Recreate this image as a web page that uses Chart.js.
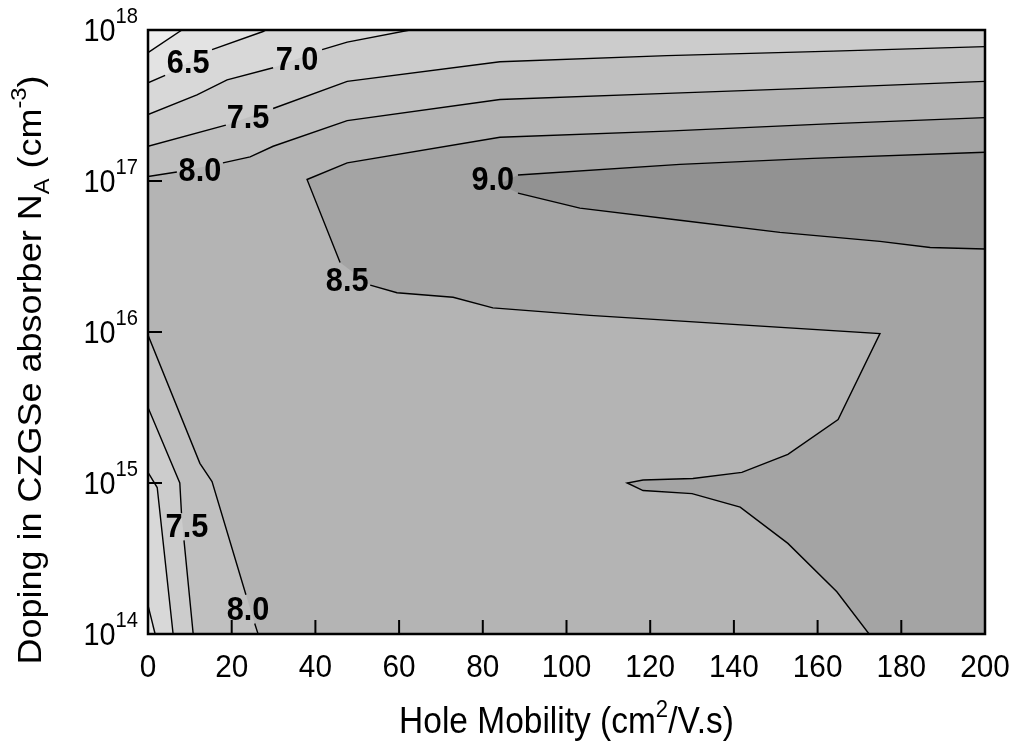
<!DOCTYPE html>
<html>
<head>
<meta charset="utf-8">
<title>Hole mobility vs doping</title>
<script src="https://cdn.jsdelivr.net/npm/chart.js@4.4.1/dist/chart.umd.min.js"></script>
<style>
    body { margin: 0; background: #fff; }
    canvas { display: block; }
</style>
</head>
<body>
<canvas id="myChart" width="1015" height="744"></canvas>
<script>
// axis ticks
const xTicks = [0, 20, 40, 60, 80, 100, 120, 140, 160, 180, 200];
const yExps = [14, 15, 16, 17, 18];

// contour lines, points are [hole mobility, log10(N_A)]
// null = the line is broken there for a label
const top60 = [[0, 17.85], [8.1, 18]];
const top65 = [[0, 17.65], [4.1, 17.70], null, [15.3, 17.87], [27.5, 17.99], [28.2, 18]];
const top70 = [[0, 17.44], [11.7, 17.57], [18.9, 17.67], [29.9, 17.75], null, [41.6, 17.87], [47.6, 17.92], [62.6, 18]];
const top75 = [[0, 17.23], [18.6, 17.37], null, [29.9, 17.48], [47.6, 17.66], [84.1, 17.79], [124, 17.83], [163.7, 17.86], [200, 17.89]];
const top80 = [[0, 17.03], [6.9, 17.06], null, [17.9, 17.12], [24.4, 17.16], [29.9, 17.23], [47.6, 17.40], [84.1, 17.54], [124, 17.58], [163.7, 17.62], [200, 17.66]];
const mid85 = [[200, 17.42], [163.7, 17.38], [124, 17.33], [84.1, 17.29], [47.6, 17.12], [38.0, 17.01], [45.9, 16.46], null,
    [53.1, 16.31], [59.5, 16.26], [72.9, 16.23], [82.4, 16.16], [105.6, 16.11], [174.9, 15.99],
    [164.9, 15.42], [152.9, 15.19], [141.9, 15.07], [130.2, 15.03], [118.3, 15.02], [114.5, 15.0],
    [118.3, 14.95], [130.0, 14.93], [141.5, 14.84], [152.9, 14.60], [164.6, 14.28], [172.3, 14.0]];
const mid90 = [[200, 17.19], [158.9, 17.15], [127.1, 17.11], [88.4, 17.04], null, [84.0, 16.98], null,
    [88.4, 16.92], [103.2, 16.82], [127.1, 16.74], [151.0, 16.66], [174.9, 16.60], [186.9, 16.56], [200, 16.55]];
const low80 = [[0, 15.98], [12.4, 15.13], [15.3, 15.01], [23.4, 14.26], null, [25.5, 14.07], [26.3, 14.0]];
const low75 = [[0, 15.50], [7.6, 15.0], [8.0, 14.80], null, [8.6, 14.62], [10.8, 14.0]];
const low70 = [[0, 15.07], [2.2, 14.97], [6.0, 14.0]];
const low65 = [[0, 14.19], [1.7, 14.0]];

// contour labels
const labelText = ['6.5', '7.0', '7.5', '8.0', '9.0', '8.5', '7.5', '8.0'];
const labelX = [9.6, 35.6, 23.9, 12.4, 82.4, 47.6, 9.3, 23.9];
const labelY = [17.78, 17.80, 17.42, 17.07, 17.01, 16.34, 14.71, 14.16];

// grey for each band, lightest (<6.0) to darkest (>9.0)
const shades = ['#eeeeee', '#e3e3e3', '#d8d8d8', '#cccccc', '#c0c0c0', '#b4b4b4', '#a4a4a4', '#929292'];

const X0 = 0, X1 = 200, E0 = 14, E1 = 18;

function toPts(arr) {
    return arr.map((p, i) => p ? {x: p[0], y: Math.pow(10, p[1])}
                               : {x: (arr[i - 1][0] + arr[i + 1][0]) / 2, y: null});
}

// filled bands, back to front: [outline, shade index]
const layers = [
    [[[X0, E0], [X1, E0], [X1, E1], [X0, E1]], 5],
    [mid85.filter(Boolean).concat([[X1, E0]]), 6],
    [mid90.filter(Boolean), 7],
    [top80.filter(Boolean).concat([[X1, E1], [X0, E1]]), 4],
    [top75.filter(Boolean).concat([[X1, E1], [X0, E1]]), 3],
    [top70.filter(Boolean).concat([[X0, E1]]), 2],
    [top65.filter(Boolean).concat([[X0, E1]]), 1],
    [top60.concat([[X0, E1]]), 0],
    [low80.filter(Boolean).concat([[X0, E0]]), 4],
    [low75.filter(Boolean).concat([[X0, E0]]), 3],
    [low70.concat([[X0, E0]]), 2],
    [low65.concat([[X0, E0]]), 1]
];
const lines = [top60, top65, top70, top75, top80, mid85, mid90, low80, low75, low70, low65];

let datasets = [];
layers.forEach((l, i) => {
    datasets.push({
        data: toPts(l[0]),
        backgroundColor: shades[l[1]],
        borderWidth: 0,
        fill: 'shape',
        order: 100 - i
    });
});
lines.forEach(l => {
    datasets.push({
        data: toPts(l),
        borderColor: '#000',
        borderWidth: 1.4,
        fill: false,
        order: 0
    });
});

const FONT = '"Liberation Sans", Arial, sans-serif';
const squeeze = 0.93;   // the original figure is a little narrow

// text with super/subscripts, parts = [[text, 0 | 1 (sup) | -1 (sub)], ...]
function drawRich(ctx, parts, x, y, size, align, rot, supSize, supRise) {
    ctx.save();
    ctx.translate(x, y);
    if (rot) {
        ctx.rotate(rot);
        ctx.scale(1, squeeze);
    } else {
        ctx.scale(squeeze, 1);
    }
    let w = 0;
    parts.forEach(p => {
        ctx.font = (p[1] ? size * supSize : size) + 'px ' + FONT;
        w += ctx.measureText(p[0]).width;
    });
    let cx = align === 'right' ? -w : -w / 2;
    ctx.textAlign = 'left';
    ctx.textBaseline = 'alphabetic';
    parts.forEach(p => {
        ctx.font = (p[1] ? size * supSize : size) + 'px ' + FONT;
        let dy = p[1] === 1 ? -size * supRise : (p[1] === -1 ? size * 0.24 : 0);
        ctx.fillText(p[0], cx, dy);
        cx += ctx.measureText(p[0]).width;
    });
    ctx.restore();
}

const decor = {
    id: 'decor',
    afterDatasetsDraw(chart) {
        const ctx = chart.ctx;
        const a = chart.chartArea;
        const x = chart.scales.x, y = chart.scales.y;
        ctx.save();

        // contour labels
        ctx.fillStyle = '#000';
        labelText.forEach((t, i) => {
            ctx.save();
            ctx.translate(x.getPixelForValue(labelX[i]), y.getPixelForValue(Math.pow(10, labelY[i])) + 1);
            ctx.scale(squeeze, 1);
            ctx.font = 'bold 33px ' + FONT;
            ctx.textAlign = 'center';
            ctx.textBaseline = 'middle';
            ctx.fillText(t, 0, 0);
            ctx.restore();
        });

        // inner ticks
        ctx.strokeStyle = '#000';
        ctx.lineWidth = 2;
        ctx.beginPath();
        xTicks.forEach(v => {
            let px = x.getPixelForValue(v);
            ctx.moveTo(px, a.bottom);
            ctx.lineTo(px, a.bottom - 14);
        });
        yExps.forEach(e => {
            let py = y.getPixelForValue(Math.pow(10, e));
            ctx.moveTo(a.left, py);
            ctx.lineTo(a.left + 14, py);
        });
        ctx.stroke();

        // frame
        ctx.lineWidth = 2.5;
        ctx.strokeRect(a.left, a.top, a.right - a.left, a.bottom - a.top);

        // tick labels
        xTicks.forEach(v => {
            drawRich(ctx, [[String(v), 0]], x.getPixelForValue(v), 677, 32, 'center', 0, 0.68, 0.5);
        });
        yExps.forEach(e => {
            let py = y.getPixelForValue(Math.pow(10, e));
            drawRich(ctx, [['10', 0], [String(e), 1]], 138, py + 11, 31, 'right', 0, 0.7, 0.58);
        });

        // axis titles
        drawRich(ctx, [['Hole Mobility (cm', 0], ['2', 1], ['/V.s)', 0]], (a.left + a.right) / 2, 733, 36, 'center', 0, 0.66, 0.45);
        drawRich(ctx, [['Doping in CZGSe absorber N', 0], ['A', -1], [' (cm', 0], ['-3', 1], [')', 0]],
            41, 370, 36, 'center', -Math.PI / 2, 0.66, 0.45);

        ctx.restore();
    }
};

const ctx = document.getElementById('myChart').getContext('2d');
const myChart = new Chart(ctx, {
    type: 'line',
    data: { datasets: datasets },
    options: {
        responsive: false,
        devicePixelRatio: 1,
        animation: false,
        events: [],
        layout: { padding: { left: 148, right: 30, top: 30, bottom: 110 } },
        elements: {
            point: { radius: 0 },
            line: { tension: 0 }
        },
        spanGaps: false,
        scales: {
            x: {
                type: 'linear', min: X0, max: X1, display: false,
                afterBuildTicks: s => { s.ticks = xTicks.map(v => ({value: v})); }
            },
            y: {
                type: 'logarithmic', min: Math.pow(10, E0), max: Math.pow(10, E1), display: false,
                afterBuildTicks: s => { s.ticks = yExps.map(e => ({value: Math.pow(10, e)})); }
            }
        },
        plugins: {
            legend: { display: false },
            tooltip: { enabled: false }
        }
    },
    plugins: [decor]
});
</script>
</body>
</html>
